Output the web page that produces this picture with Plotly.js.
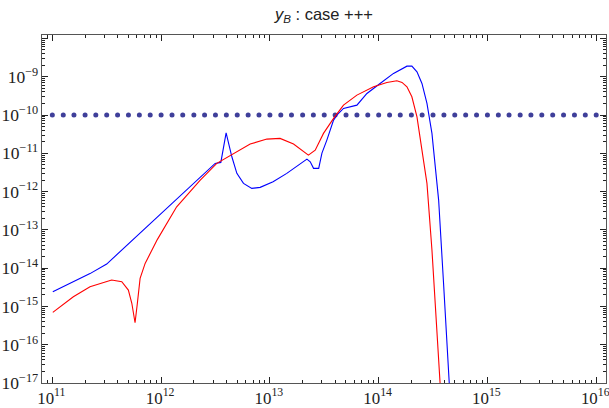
<!DOCTYPE html>
<html>
<head>
<meta charset="utf-8">
<script src="https://cdn.plot.ly/plotly-3.0.1.min.js"></script>
<style>html,body{margin:0;padding:0;background:#fff;}#chart{width:609px;height:408px;}</style>
</head>
<body>
<div id="chart"></div>
<script>
// Blue curve
const blueX = [1.01e11,1.56e11,2.22e11,3.16e11,4.20e11,5.45e11,7.93e11,1.13e12,1.60e12,2.29e12,3.14e12,3.54e12,3.96e12,4.47e12,4.97e12,5.72e12,6.82e12,8.14e12,1.07e13,1.43e13,1.90e13,2.19e13,2.35e13,2.52e13,2.81e13,3.01e13,3.34e13,3.85e13,4.13e13,4.75e13,6.31e13,7.80e13,1.03e14,1.37e14,1.82e14,2.02e14,2.25e14,2.50e14,2.78e14,3.09e14,3.20e14,3.56e14,3.95e14,4.47e14,4.66e14];
const blueY = [2.42e-15,4.30e-15,7.20e-15,1.28e-14,2.71e-14,5.42e-14,1.45e-13,3.58e-13,8.80e-13,2.40e-12,5.45e-12,5.78e-12,3.43e-11,8.11e-12,2.99e-12,1.64e-12,1.21e-12,1.29e-12,1.80e-12,2.99e-12,5.45e-12,7.06e-12,6.00e-12,4.04e-12,4.04e-12,1.01e-11,2.21e-11,7.36e-11,9.93e-11,1.49e-10,1.81e-10,3.66e-10,6.68e-10,1.22e-9,1.89e-9,1.89e-9,1.34e-9,6.68e-10,2.01e-10,3.31e-11,1.21e-11,6.00e-13,4.01e-15,9.8e-18,1.07e-18];
// Red curve
const redX = [1.01e11,1.56e11,2.22e11,3.51e11,4.35e11,5.00e11,5.38e11,5.76e11,6.05e11,6.41e11,7.13e11,8.21e11,9.25e11,1.39e12,2.29e12,3.25e12,4.62e12,6.59e12,9.38e12,1.24e13,1.65e13,2.04e13,2.26e13,2.61e13,3.11e13,3.85e13,4.75e13,6.31e13,8.98e13,1.19e14,1.47e14,1.64e14,1.82e14,2.02e14,2.25e14,2.50e14,2.78e14,3.09e14,3.39e14,3.69e14,3.85e14];
const redY = [7.01e-16,1.79e-15,3.26e-15,4.89e-15,4.41e-15,2.68e-15,1.21e-15,3.75e-16,1.21e-15,5.42e-15,1.33e-14,2.97e-14,5.65e-14,4.01e-13,2.00e-12,5.45e-12,9.93e-12,1.74e-11,2.35e-11,2.45e-11,1.74e-11,1.09e-11,8.97e-12,1.21e-11,3.31e-11,8.15e-11,1.81e-10,3.31e-10,5.44e-10,7.10e-10,7.82e-10,7.10e-10,5.44e-10,2.99e-10,8.97e-11,1.21e-11,1.64e-12,2.97e-14,5.38e-16,9.8e-18,1.07e-18];
// Observed value (dotted line)
const observedYB = 1e-10;
const dotX = [1e11,1.26e11,1.58e11,2.00e11,2.51e11,3.16e11,3.98e11,5.01e11,6.31e11,7.94e11,
  1e12,1.26e12,1.58e12,2.00e12,2.51e12,3.16e12,3.98e12,5.01e12,6.31e12,7.94e12,
  1e13,1.26e13,1.58e13,2.00e13,2.51e13,3.16e13,3.98e13,5.01e13,6.31e13,7.94e13,
  1e14,1.26e14,1.58e14,2.00e14,2.51e14,3.16e14,3.98e14,5.01e14,6.31e14,7.94e14,
  1e15,1.26e15,1.58e15,2.00e15,2.51e15,3.16e15,3.98e15,5.01e15,6.31e15,7.94e15,1e16];

const xRange = [10.905, 16.09];
const yRange = [-17, -7.91];

const traces = [
  {x: dotX, y: dotX.map(() => observedYB), mode: 'markers', type: 'scatter',
   marker: {color: '#3f3f9a', size: 5}, hoverinfo: 'skip'},
  {x: blueX, y: blueY, mode: 'lines', type: 'scatter', line: {color: '#0000ff', width: 1.1}},
  {x: redX, y: redY, mode: 'lines', type: 'scatter', line: {color: '#ff0000', width: 1.1}}
];

const axisCommon = {
  type: 'log', dtick: 1, exponentformat: 'power', showgrid: false, zeroline: false,
  ticks: 'inside', ticklen: 6, tickcolor: '#222', tickwidth: 1,
  showline: true, linecolor: '#555', linewidth: 1, mirror: 'allticks',
  ticklabeloverflow: 'allow',
  tickfont: {family: 'Liberation Serif, Times New Roman, serif', size: 14, color: '#222'},
  minor: {ticks: 'inside', ticklen: 3, tickcolor: '#222', showgrid: false}
};

const layout = {
  width: 609, height: 408,
  margin: {l: 42, r: 3, t: 35, b: 25},
  paper_bgcolor: '#fff', plot_bgcolor: '#fff',
  showlegend: false,
  title: {text: '<i>y</i><sub><i>B</i></sub> : case +++', x: 0.532, xanchor: 'center',
          y: 0.966, yref: 'container', yanchor: 'middle',
          font: {family: 'Liberation Sans, Arial, sans-serif', size: 16.5, color: '#222'}},
  xaxis: Object.assign({}, axisCommon, {range: xRange, ticklabelshift: -1,
    tickfont: {family: 'Liberation Serif, Times New Roman, serif', size: 13.5, color: '#222'}}),
  yaxis: Object.assign({}, axisCommon, {range: yRange,
    labelalias: {'10<sup>\u22128</sup>': ' '}})
};

Plotly.newPlot('chart', traces, layout, {displayModeBar: false, staticPlot: true});
</script>
</body>
</html>
